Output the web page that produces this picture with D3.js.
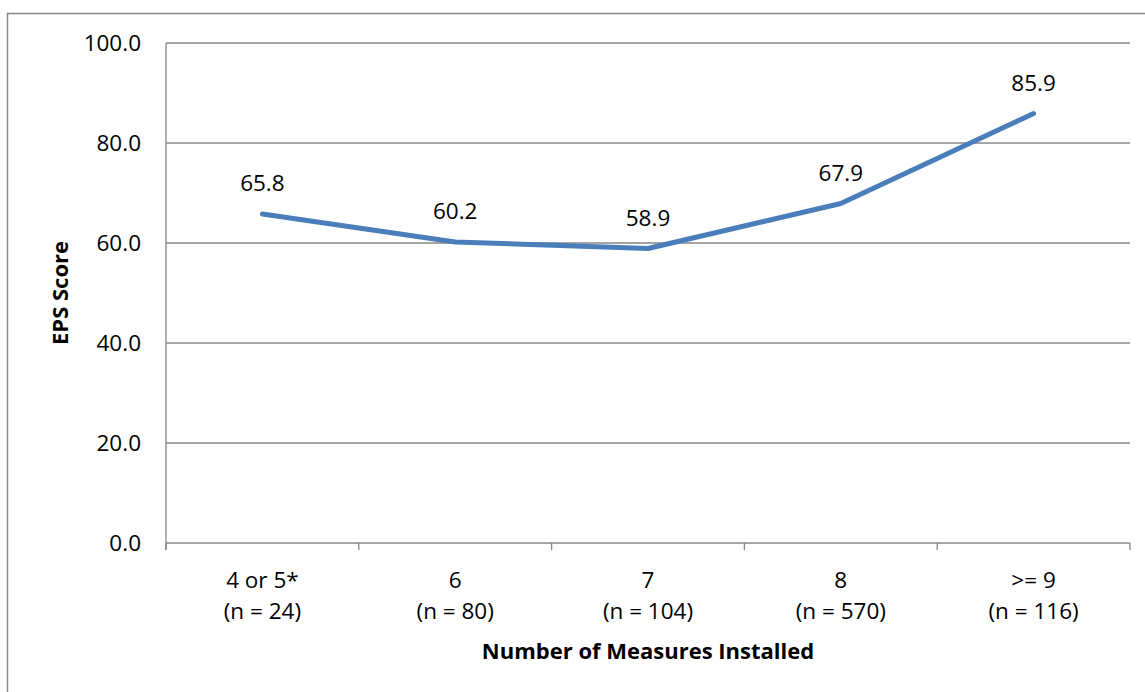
<!DOCTYPE html>
<html lang="en">
<head>
  <meta charset="UTF-8" />
  <title>EPS Score by Number of Measures Installed</title>
  <style>
    body { margin: 0; background: #fff; }
    svg { display: block; font-family: "Open Sans", "Noto Sans", sans-serif; }
    .grid line { stroke: #868686; stroke-width: 1.3; }
    .lbl { font-size: 22.5px; fill: #000; }
    .title { font-size: 22px; font-weight: bold; fill: #000; }
  </style>
</head>
<body>
  <div id="chart"></div>
  <script src="https://d3js.org/d3.v7.min.js"></script>
  <script>
    const categories = ['4 or 5*', '6', '7', '8', '>= 9'];
    const counts = ['(n = 24)', '(n = 80)', '(n = 104)', '(n = 570)', '(n = 116)'];
    const scores = [65.8, 60.2, 58.9, 67.9, 85.9];
    const yTicks = [0, 20, 40, 60, 80, 100];

    const width = 1145, height = 692;
    const m = { left: 166, right: 1130, top: 43, bottom: 543 };

    const svg = d3.select('#chart').append('svg')
      .attr('width', width).attr('height', height);

    // outer chart border
    svg.append('rect')
      .attr('x', 7.5).attr('y', 13.5)
      .attr('width', width + 20).attr('height', height + 20)
      .attr('fill', 'none').attr('stroke', '#868686').attr('stroke-width', 1.5);

    const x = d3.scaleBand().domain(categories).range([m.left, m.right]);
    const y = d3.scaleLinear().domain([0, 100]).range([m.bottom, m.top]);

    // horizontal gridlines
    svg.append('g').attr('class', 'grid')
      .selectAll('line').data(yTicks).enter().append('line')
      .attr('x1', m.left).attr('x2', m.right)
      .attr('y1', d => y(d)).attr('y2', d => y(d));

    // y axis line
    svg.append('line')
      .attr('x1', m.left).attr('x2', m.left)
      .attr('y1', m.top).attr('y2', m.bottom + 7)
      .attr('stroke', '#868686').attr('stroke-width', 1.3);

    // x category boundary ticks
    const bounds = categories.map(c => x(c)).concat([m.right]);
    svg.append('g').selectAll('line').data(bounds).enter().append('line')
      .attr('x1', d => d).attr('x2', d => d)
      .attr('y1', m.bottom).attr('y2', m.bottom + 7)
      .attr('stroke', '#868686').attr('stroke-width', 1.3);

    // y tick labels
    svg.append('g').selectAll('text').data(yTicks).enter().append('text')
      .attr('class', 'lbl')
      .attr('x', 141).attr('y', d => y(d))
      .attr('dy', '0.35em')
      .attr('text-anchor', 'end')
      .text(d => d.toFixed(1));

    // x labels
    const xl = svg.append('g').selectAll('text').data(categories).enter().append('text')
      .attr('class', 'lbl')
      .attr('text-anchor', 'middle')
      .attr('x', d => x(d) + x.bandwidth() / 2);
    xl.append('tspan').attr('y', 588).text(d => d);
    xl.append('tspan').attr('x', d => x(d) + x.bandwidth() / 2).attr('y', 619)
      .text((d, i) => counts[i]);

    // line
    const line = d3.line()
      .x((d, i) => x(categories[i]) + x.bandwidth() / 2)
      .y(d => y(d));
    svg.append('path')
      .datum(scores)
      .attr('d', line)
      .attr('fill', 'none')
      .attr('stroke', '#4a7ebb')
      .attr('stroke-width', 5)
      .attr('stroke-linejoin', 'round')
      .attr('stroke-linecap', 'round');

    // data labels
    svg.append('g').selectAll('text').data(scores).enter().append('text')
      .attr('class', 'lbl')
      .attr('text-anchor', 'middle')
      .attr('x', (d, i) => x(categories[i]) + x.bandwidth() / 2)
      .attr('y', d => y(d) - 23)
      .text(d => d.toFixed(1));

    // axis titles
    svg.append('text').attr('class', 'title')
      .attr('text-anchor', 'middle')
      .attr('x', (m.left + m.right) / 2).attr('y', 659)
      .text('Number of Measures Installed');

    svg.append('text').attr('class', 'title')
      .attr('text-anchor', 'middle')
      .attr('transform', `translate(68, ${(m.top + m.bottom) / 2}) rotate(-90)`)
      .text('EPS Score');
  </script>
</body>
</html>
